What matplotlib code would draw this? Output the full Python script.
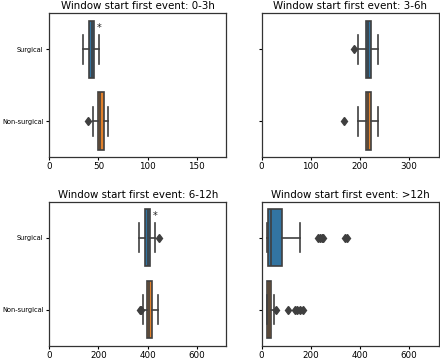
import matplotlib
matplotlib.use("Agg")
import matplotlib.pyplot as plt

groups = ["Surgical", "Non-surgical"]
titles = ["Window start first event: 0-3h", "Window start first event: 3-6h",
          "Window start first event: 6-12h", "Window start first event: >12h"]
xlims = [180, 360, 720, 720]
xticks = [[0, 50, 100, 150], [0, 100, 200, 300], [0, 200, 400, 600], [0, 200, 400, 600]]

# box stats per panel: [Surgical, Non-surgical]
whislo = [[34.6, 44.8], [196.5, 196.5], [363, 381], [20, 20]]
q1 = [[40, 50], [211.5, 211.5], [388, 397.5], [24.5, 23]]
med = [[43, 52], [217, 216], [400, 405], [36.5, 28]]
q3 = [[45.3, 55.4], [222.4, 222.4], [411, 419], [81, 36]]
whishi = [[50.3, 60], [236, 236], [430, 442], [156, 50]]
fliers = [
    [[], [39.7]],
    [[188], [166.5]],
    [[445], [367, 372]],
    [[228, 236, 244, 250, 340, 348], [57, 107, 135, 145, 155, 168]],
]
stars = [True, False, True, False]

colors = ["#3274a1", "#e1812c"]
gray = "#3f3f3f"

fig, axes = plt.subplots(2, 2, figsize=(4.4, 3.6), dpi=100, sharey=True)
fig.subplots_adjust(left=0.112, right=0.997, bottom=0.040, top=0.963,
                    wspace=0.2, hspace=0.31)

for i, ax in enumerate(axes.flat):
    stats = []
    for j in range(2):
        stats.append(dict(whislo=whislo[i][j], q1=q1[i][j], med=med[i][j],
                          q3=q3[i][j], whishi=whishi[i][j], fliers=fliers[i][j]))
    bp = ax.bxp(stats, positions=[0, 1], vert=False, widths=0.8, patch_artist=True,
                boxprops=dict(edgecolor=gray, linewidth=1.2),
                whiskerprops=dict(color=gray, linewidth=1.2),
                capprops=dict(color=gray, linewidth=1.2),
                medianprops=dict(color=gray, linewidth=1.2),
                flierprops=dict(marker="d", markerfacecolor=gray, markeredgecolor=gray,
                                markersize=4.5, linestyle="none"))
    for patch, c in zip(bp["boxes"], colors):
        patch.set_facecolor(c)
    if stars[i]:
        ax.text(whishi[i][0], -0.3, "*", ha="center", va="center", fontsize=7, color="#222222")
    ax.set_xlim(0, xlims[i])
    ax.set_xticks(xticks[i])
    ax.set_xticklabels([str(t) for t in xticks[i]])
    ax.set_ylim(1.5, -0.5)
    ax.set_yticks([0, 1])
    ax.set_yticklabels(groups)
    ax.set_title(titles[i], fontsize=7.4, pad=3)
    ax.tick_params(axis="x", labelsize=6.3, length=2.5, pad=1.2)
    ax.tick_params(axis="y", labelsize=4.8, length=2.5, pad=1.5)
    for s in ax.spines.values():
        s.set_linewidth(0.9)
        s.set_color("#333333")

for ax in axes[:, 1]:
    ax.tick_params(axis="y", labelleft=False)

fig.savefig("out.png", dpi=100)
